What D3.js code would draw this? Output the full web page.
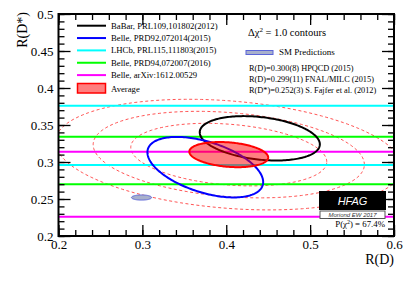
<!DOCTYPE html>
<html>
<head>
<meta charset="utf-8">
<script src="https://cdn.jsdelivr.net/npm/d3@7"></script>
<style>
  body { margin: 0; background: #fff; }
  svg { display: block; font-family: "Liberation Serif", "DejaVu Serif", serif; }
</style>
</head>
<body>
<div id="chart"></div>
<script>
// measurements: horizontal bands for R(D*) only results
const bandNames = ['LHCb, PRL115,111803(2015)', 'Belle, PRD94,072007(2016)', 'Belle, arXiv:1612.00529'];
const bandColors = ['#00ffff', '#00ff00', '#ff00ff'];
const bandLow = [0.296, 0.270, 0.226];
const bandHigh = [0.376, 0.334, 0.314];

// 2D measurements: [R(D), R(D*), sigma R(D), sigma R(D*), correlation]
const ellipseNames = ['BaBar, PRL109,101802(2012)', 'Belle, PRD92,072014(2015)'];
const ellipseColors = ['#000000', '#0000ff'];
const ellipseParams = [
  [0.440, 0.332, 0.0716, 0.0300, -0.27],
  [0.375, 0.293, 0.0690, 0.0409, -0.49]
];
const average = [0.403, 0.310, 0.047, 0.017, -0.23];
// dashed contours of the average, delta chi2 levels
const avgContourLevels = [6.18, 11.83, 19.33];
const smPrediction = [0.299, 0.252, 0.012, 0.0035, 0];

const smLines = ['R(D)=0.300(8) HPQCD (2015)', 'R(D)=0.299(11) FNAL/MILC (2015)', 'R(D*)=0.252(3) S. Fajfer et al. (2012)'];
const xTicks = [0.2, 0.3, 0.4, 0.5, 0.6];
const yTicks = [0.2, 0.25, 0.3, 0.35, 0.4, 0.45, 0.5];

const w = 415, h = 281;
const pL = 58.5, pR = 394, pT = 14, pB = 236;

const svg = d3.select('#chart').append('svg').attr('width', w).attr('height', h);
svg.append('rect').attr('width', w).attr('height', h).attr('fill', '#fff');

const x = d3.scaleLinear().domain([0.2, 0.6]).range([pL, pR]);
const y = d3.scaleLinear().domain([0.2, 0.5]).range([pB, pT]);

svg.append('clipPath').attr('id', 'clip')
  .append('rect').attr('x', pL).attr('y', pT).attr('width', pR - pL).attr('height', pB - pT);

const plot = svg.append('g').attr('clip-path', 'url(#clip)');

function ellipsePoints(p, k) {
  const [cx, cy, sx, sy, rho] = p;
  const s = Math.sqrt(1 - rho * rho);
  return d3.range(0, 201).map(i => {
    const t = i / 200 * 2 * Math.PI;
    return [cx + k * sx * Math.cos(t), cy + k * sy * (rho * Math.cos(t) + s * Math.sin(t))];
  });
}
const line = d3.line().x(d => x(d[0])).y(d => y(d[1]));

// dashed contours of the average
plot.selectAll('.dash').data(avgContourLevels).enter().append('path')
  .attr('d', d => line(ellipsePoints(average, Math.sqrt(d))))
  .attr('fill', 'none').attr('stroke', '#ff4040').attr('stroke-width', 0.9)
  .attr('stroke-dasharray', '3,2.5');

// bands (two lines each)
bandNames.forEach((n, i) => {
  [bandLow[i], bandHigh[i]].forEach(v => {
    plot.append('line').attr('x1', pL).attr('x2', pR)
      .attr('y1', y(v)).attr('y2', y(v))
      .attr('stroke', bandColors[i]).attr('stroke-width', 2);
  });
});

// SM prediction
plot.append('path').attr('d', line(ellipsePoints(smPrediction, 1)))
  .attr('fill', '#a8b0cc').attr('stroke', '#5a64d8').attr('stroke-width', 1);

// 2D measurements
ellipseParams.forEach((p, i) => {
  plot.append('path').attr('d', line(ellipsePoints(p, 1)))
    .attr('fill', 'none').attr('stroke', ellipseColors[i]).attr('stroke-width', 2);
});

// average
plot.append('path').attr('d', line(ellipsePoints(average, 1)))
  .attr('fill', 'rgba(255,0,0,0.5)').attr('stroke', '#ff0000').attr('stroke-width', 2);

// frame and ticks
function tickAxis(axisFn, scale, vals, size, tr) {
  svg.append('g').attr('transform', tr)
    .call(axisFn(scale).tickValues(vals).tickSize(size).tickFormat(''))
    .call(g => g.select('.domain').remove())
    .call(g => g.selectAll('line').attr('stroke', '#000').attr('stroke-width', 1.3));
}
const xMinor = d3.range(0, 21).map(i => 0.2 + i * 0.02);
const yMinor = d3.range(0, 31).map(i => 0.2 + i * 0.01);
tickAxis(d3.axisBottom, x, xMinor, -6, `translate(0,${pB})`);
tickAxis(d3.axisBottom, x, xTicks, -11, `translate(0,${pB})`);
tickAxis(d3.axisTop, x, xMinor, -6, `translate(0,${pT})`);
tickAxis(d3.axisTop, x, xTicks, -11, `translate(0,${pT})`);
tickAxis(d3.axisLeft, y, yMinor, -6, `translate(${pL},0)`);
tickAxis(d3.axisLeft, y, yTicks, -12, `translate(${pL},0)`);
tickAxis(d3.axisRight, y, yMinor, -6, `translate(${pR},0)`);
tickAxis(d3.axisRight, y, yTicks, -12, `translate(${pR},0)`);

svg.append('rect').attr('x', pL).attr('y', pT).attr('width', pR - pL).attr('height', pB - pT)
  .attr('fill', 'none').attr('stroke', '#000').attr('stroke-width', 2);

const fmt = d => String(+d.toFixed(2));
svg.append('g').attr('transform', `translate(${pL},0)`)
  .call(d3.axisLeft(y).tickValues(yTicks).tickSize(0).tickPadding(5).tickFormat(fmt))
  .call(g => g.select('.domain').remove())
  .call(g => g.selectAll('text').attr('font-size', 13).attr('font-family', '"Liberation Serif", serif').attr('fill', '#000'));
svg.append('g').attr('transform', `translate(0,${pB})`)
  .call(d3.axisBottom(x).tickValues(xTicks).tickSize(0).tickPadding(4).tickFormat(fmt))
  .call(g => g.select('.domain').remove())
  .call(g => g.selectAll('text').attr('font-size', 13).attr('font-family', '"Liberation Serif", serif').attr('fill', '#000'));

svg.append('text').attr('x', pR).attr('y', 264).attr('text-anchor', 'end')
  .attr('font-size', 14).text('R(D)');
svg.append('text').attr('transform', 'translate(27,12) rotate(-90)').attr('text-anchor', 'end')
  .attr('font-size', 14).text('R(D*)');

// legend
const legend = svg.append('g').attr('font-size', 8.7);
const legNames = [ellipseNames[0], ellipseNames[1], bandNames[0], bandNames[1], bandNames[2]];
const legColors = [ellipseColors[0], ellipseColors[1], bandColors[0], bandColors[1], bandColors[2]];
legNames.forEach((n, i) => {
  const ly = 25.7 + i * 12.35;
  legend.append('line').attr('x1', 77).attr('x2', 106).attr('y1', ly).attr('y2', ly)
    .attr('stroke', legColors[i]).attr('stroke-width', 2);
  legend.append('text').attr('x', 111).attr('y', ly + 3).text(n);
});
legend.append('rect').attr('x', 77.5).attr('y', 83.5).attr('width', 28).attr('height', 9.5)
  .attr('fill', 'rgba(255,0,0,0.5)').attr('stroke', '#ff0000').attr('stroke-width', 1.5);
legend.append('text').attr('x', 111).attr('y', 91.5).text('Average');

const info = svg.append('g');
const dchi = info.append('text').attr('x', 248).attr('y', 36).attr('font-size', 10.5);
dchi.append('tspan').text('\u0394\u03c7');
dchi.append('tspan').attr('dy', -4).attr('font-size', 7).text('2');
dchi.append('tspan').attr('dy', 4).text(' = 1.0 contours');

info.append('rect').attr('x', 246).attr('y', 50.5).attr('width', 27).attr('height', 4)
  .attr('fill', '#a8b0cc').attr('stroke', '#5a64d8').attr('stroke-width', 1);
info.append('text').attr('x', 279).attr('y', 55).attr('font-size', 9).text('SM Predictions');
smLines.forEach((t, i) => {
  info.append('text').attr('x', 249).attr('y', 70.5 + i * 11.3).attr('font-size', 8.3).text(t);
});

// HFAG logo
const logo = svg.append('g');
logo.append('rect').attr('x', 319).attr('y', 191).attr('width', 67).attr('height', 19).attr('fill', '#000');
logo.append('text').attr('x', 352.5).attr('y', 205).attr('text-anchor', 'middle')
  .attr('font-family', '"Liberation Sans", Arial, sans-serif').attr('font-style', 'italic')
  .attr('font-size', 11).attr('fill', '#fff').text('HFAG');
logo.append('rect').attr('x', 320).attr('y', 211).attr('width', 65).attr('height', 7.5)
  .attr('fill', '#fff').attr('stroke', '#555').attr('stroke-width', 1);
logo.append('text').attr('x', 352.5).attr('y', 217).attr('text-anchor', 'middle')
  .attr('font-family', '"Liberation Sans", Arial, sans-serif').attr('font-style', 'italic')
  .attr('font-size', 6).attr('fill', '#333').attr('text-decoration', 'underline').text('Moriond EW 2017');
const pchi = logo.append('text').attr('x', 385).attr('y', 226.5).attr('text-anchor', 'end').attr('font-size', 8.8);
pchi.append('tspan').text('P(\u03c7');
pchi.append('tspan').attr('dy', -3).attr('font-size', 6).text('2');
pchi.append('tspan').attr('dy', 3).text(') = 67.4%');
</script>
</body>
</html>
